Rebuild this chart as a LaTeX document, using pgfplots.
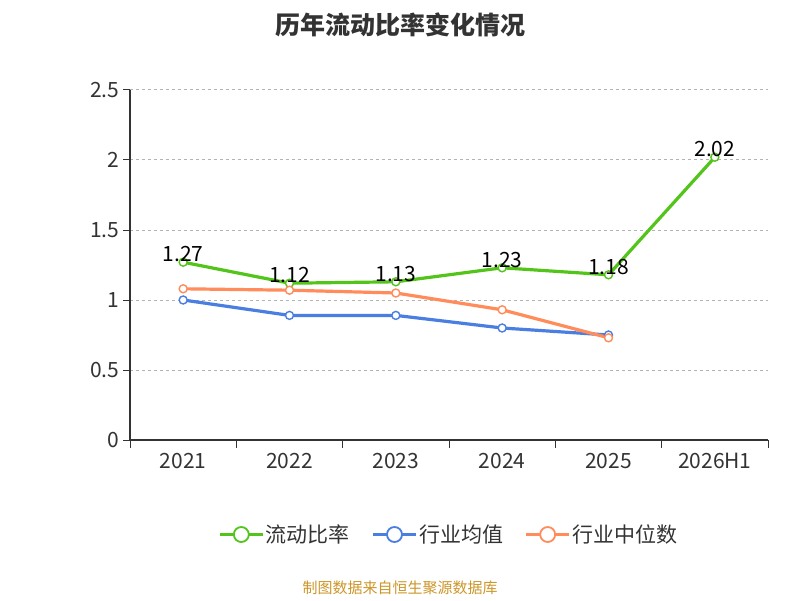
\documentclass[border=0pt]{standalone}
\usepackage{pgfplots}
\pgfplotsset{compat=1.18}
\usepackage{fontspec}
\setmainfont{Noto Sans CJK SC}
\definecolor{cg}{HTML}{52C41A}
\definecolor{cb}{HTML}{4A7EE0}
\definecolor{co}{HTML}{FF8C5A}
\definecolor{axc}{HTML}{333333}
\begin{document}
\begin{tikzpicture}[x=1pt,y=1pt]
\path (0,0) rectangle (800,600);
\node[font=\bfseries\fontsize{25}{28}\selectfont,text=axc] at (400,575) {历年流动比率变化情况};
\begin{axis}[at={(130pt,160pt)},anchor=south west,scale only axis,width=638pt,height=350pt,
 /pgf/number format/assume math mode=true,
 xmin=-0.5,xmax=5.5,ymin=0,ymax=2.5,
 xtick={0,...,5},xticklabels={2021,2022,2023,2024,2025,2026H1},
 major x tick style={draw=none},
 extra x ticks={-0.5,0.5,1.5,2.5,3.5,4.5,5.5},extra x tick labels={},
 extra x tick style={major x tick style={draw=axc,line width=1pt},major tick length=8pt},
 ytick={0,0.5,1,1.5,2,2.5},yticklabels={0,0.5,1,1.5,2,2.5},
 tick align=outside,major tick length=7pt,
 ymajorgrids,grid style={dashed,gray!60,line width=1pt},
 y tick style={draw=axc,line width=1pt},
 axis x line*=bottom,axis y line*=left,
 axis line style={draw=axc,line width=1.2pt,-},
 tick label style={font=\fontsize{21}{24}\selectfont,text=axc},
 xticklabel style={yshift=-3pt},
 legend style={at={(0.5,-0.27)},anchor=center,draw=none,legend columns=3,
  font=\fontsize{21}{24}\selectfont,text=axc,/tikz/every even column/.append style={column sep=20pt}},
 legend image code/.code={\draw[#1,line width=2.5pt] (-0.1cm,0) -- (1.4cm,0);
   \draw[#1,line width=1.8pt,fill=white] (0.65cm,0) circle (7.5pt);},
 every axis plot/.append style={line width=3.2pt,mark=*,mark size=4pt,mark options={fill=white,line width=1.4pt}},
 clip=false]
\addplot[cg,nodes near coords,every node near coord/.style={font=\fontsize{21}{24}\selectfont,text=black,anchor=center,yshift=8pt}] coordinates {(0,1.27)(1,1.12)(2,1.13)(3,1.23)(4,1.18)(5,2.02)};
\addlegendentry{流动比率}
\addplot[cb] coordinates {(0,1.00)(1,0.89)(2,0.89)(3,0.80)(4,0.75)};
\addlegendentry{行业均值}
\addplot[co] coordinates {(0,1.08)(1,1.07)(2,1.05)(3,0.93)(4,0.73)};
\addlegendentry{行业中位数}
\end{axis}
\node[font=\fontsize{15}{18}\selectfont,text={rgb,255:red,204;green,150;blue,40}] at (400,12) {制图数据来自恒生聚源数据库};
\end{tikzpicture}
\end{document}
